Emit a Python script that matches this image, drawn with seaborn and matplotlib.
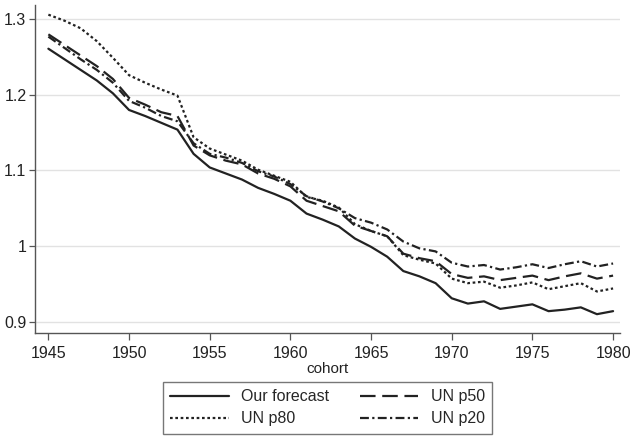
import matplotlib
matplotlib.use("Agg")
import matplotlib.pyplot as plt
import seaborn as sns
import pandas as pd
from matplotlib.ticker import FuncFormatter

years = list(range(1945, 1981))

our_forecast = [1.261, 1.247, 1.233, 1.219, 1.202, 1.180, 1.172, 1.163, 1.154, 1.122,
                1.104, 1.096, 1.088, 1.077, 1.069, 1.060, 1.043, 1.035, 1.026, 1.010,
                0.999, 0.986, 0.967, 0.960, 0.951, 0.931, 0.924, 0.927, 0.917, 0.920,
                0.923, 0.914, 0.916, 0.919, 0.910, 0.914]

un_p50 = [1.280, 1.266, 1.252, 1.238, 1.221, 1.196, 1.187, 1.177, 1.172, 1.133,
          1.120, 1.113, 1.108, 1.096, 1.089, 1.079, 1.060, 1.053, 1.046, 1.027,
          1.020, 1.013, 0.990, 0.984, 0.980, 0.963, 0.958, 0.960, 0.955, 0.958,
          0.961, 0.955, 0.960, 0.964, 0.957, 0.961]

un_p80 = [1.306, 1.298, 1.288, 1.271, 1.249, 1.226, 1.216, 1.207, 1.199, 1.144,
          1.129, 1.121, 1.113, 1.101, 1.093, 1.085, 1.065, 1.060, 1.051, 1.029,
          1.020, 1.013, 0.988, 0.982, 0.977, 0.957, 0.951, 0.953, 0.945, 0.948,
          0.952, 0.943, 0.947, 0.951, 0.940, 0.944]

un_p20 = [1.277, 1.262, 1.247, 1.233, 1.216, 1.192, 1.183, 1.172, 1.165, 1.136,
          1.122, 1.117, 1.110, 1.099, 1.092, 1.082, 1.066, 1.059, 1.050, 1.037,
          1.031, 1.022, 1.006, 0.997, 0.993, 0.978, 0.973, 0.975, 0.969, 0.972,
          0.976, 0.971, 0.976, 0.980, 0.973, 0.977]

series_names = ["Our forecast", "UN p80", "UN p50", "UN p20"]
series_values = [our_forecast, un_p80, un_p50, un_p20]

x_ticks = [1945, 1950, 1955, 1960, 1965, 1970, 1975, 1980]
y_ticks = [0.9, 1.0, 1.1, 1.2, 1.3]

rows = []
for name, vals in zip(series_names, series_values):
    for yr, v in zip(years, vals):
        rows.append({"cohort": yr, "value": v, "series": name})
df = pd.DataFrame(rows)

sns.set_style("white")
plt.rcParams["font.family"] = ["Liberation Sans", "DejaVu Sans"]

fig = plt.figure(figsize=(6.33, 4.40), dpi=100)
ax = fig.add_axes([0.055, 0.243, 0.925, 0.746])

dashes = {
    "Our forecast": "",
    "UN p80": (1.2, 1.2),
    "UN p50": (7, 3),
    "UN p20": (4, 1.5, 1, 1.5),
}

sns.lineplot(data=df, x="cohort", y="value", style="series", style_order=series_names,
             dashes=dashes, color="#222222", linewidth=1.6, ax=ax, legend=True)

ax.set_xlim(1944.16, 1980.45)
ax.set_ylim(0.885, 1.319)
ax.set_xticks(x_ticks)
ax.set_yticks(y_ticks)
ax.yaxis.set_major_formatter(FuncFormatter(lambda v, p: f"{v:g}"))
ax.grid(axis="y", color="#e2e2e2", linewidth=1.0)
ax.grid(axis="x", visible=False)
ax.set_axisbelow(True)

for s in ["top", "right"]:
    ax.spines[s].set_visible(False)
for s in ["left", "bottom"]:
    ax.spines[s].set_color("#555555")
    ax.spines[s].set_linewidth(1.0)

ax.tick_params(axis="x", which="major", direction="out", length=5, width=0.9, pad=4,
               color="#555555", labelsize=11.5, labelcolor="#222222", bottom=True)
ax.tick_params(axis="y", which="major", direction="out", length=4, width=0.9, pad=2,
               color="#555555", labelsize=11.5, labelcolor="#222222", left=True)
ax.set_xlabel("cohort", fontsize=11, color="#222222", labelpad=1)
ax.set_ylabel("")

handles, labels = ax.get_legend_handles_labels()
ax.legend(handles, labels, ncol=2, loc="upper center", bbox_to_anchor=(0.5, -0.125),
          frameon=True, fancybox=False, edgecolor="#555555", fontsize=11.5,
          handlelength=3.65, columnspacing=1.9, handletextpad=0.8, labelspacing=0.45,
          borderpad=0.45)
leg = ax.get_legend()
leg.get_frame().set_linewidth(1.0)

fig.savefig("out.png", dpi=100)
